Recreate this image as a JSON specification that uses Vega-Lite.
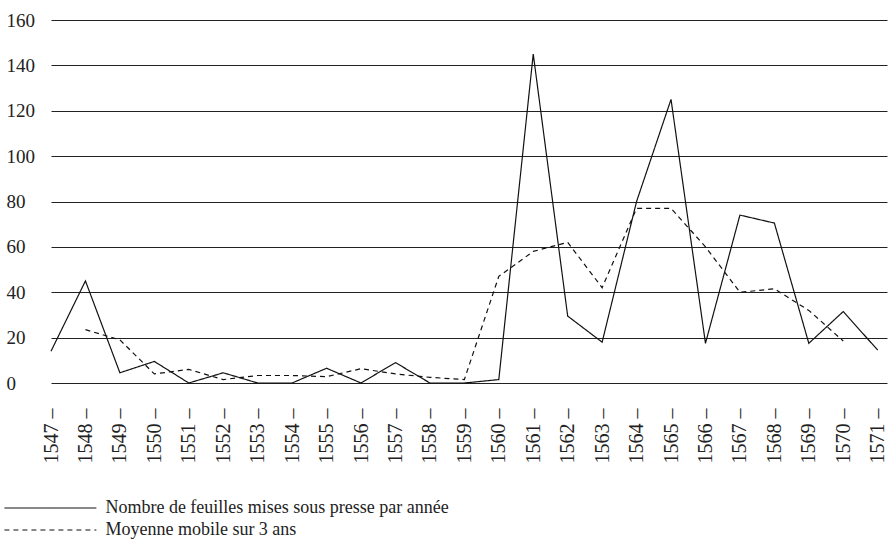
{
  "$schema": "https://vega.github.io/schema/vega-lite/v6.json",
  "width": 836,
  "height": 363,
  "autosize": {"type": "none"},
  "padding": {"left": 51, "top": 20, "right": 7, "bottom": 163},
  "background": "white",
  "config": {
    "view": {"stroke": null},
    "font": "Liberation Serif",
    "axis": {"labelFont": "Liberation Serif", "labelColor": "#222"},
    "legend": {"labelFont": "Liberation Serif"}
  },
  "data": {
    "values": [
      {"year": 1547, "value": 14, "series": "Nombre de feuilles mises sous presse par année"},
      {"year": 1548, "value": 45, "series": "Nombre de feuilles mises sous presse par année"},
      {"year": 1549, "value": 4.5, "series": "Nombre de feuilles mises sous presse par année"},
      {"year": 1550, "value": 9.5, "series": "Nombre de feuilles mises sous presse par année"},
      {"year": 1551, "value": 0, "series": "Nombre de feuilles mises sous presse par année"},
      {"year": 1552, "value": 4.5, "series": "Nombre de feuilles mises sous presse par année"},
      {"year": 1553, "value": 0, "series": "Nombre de feuilles mises sous presse par année"},
      {"year": 1554, "value": 0, "series": "Nombre de feuilles mises sous presse par année"},
      {"year": 1555, "value": 6.5, "series": "Nombre de feuilles mises sous presse par année"},
      {"year": 1556, "value": 0, "series": "Nombre de feuilles mises sous presse par année"},
      {"year": 1557, "value": 9, "series": "Nombre de feuilles mises sous presse par année"},
      {"year": 1558, "value": 0, "series": "Nombre de feuilles mises sous presse par année"},
      {"year": 1559, "value": 0, "series": "Nombre de feuilles mises sous presse par année"},
      {"year": 1560, "value": 1.5, "series": "Nombre de feuilles mises sous presse par année"},
      {"year": 1561, "value": 145, "series": "Nombre de feuilles mises sous presse par année"},
      {"year": 1562, "value": 29.5, "series": "Nombre de feuilles mises sous presse par année"},
      {"year": 1563, "value": 18, "series": "Nombre de feuilles mises sous presse par année"},
      {"year": 1564, "value": 80, "series": "Nombre de feuilles mises sous presse par année"},
      {"year": 1565, "value": 125, "series": "Nombre de feuilles mises sous presse par année"},
      {"year": 1566, "value": 17.5, "series": "Nombre de feuilles mises sous presse par année"},
      {"year": 1567, "value": 74, "series": "Nombre de feuilles mises sous presse par année"},
      {"year": 1568, "value": 70.5, "series": "Nombre de feuilles mises sous presse par année"},
      {"year": 1569, "value": 17.5, "series": "Nombre de feuilles mises sous presse par année"},
      {"year": 1570, "value": 31.5, "series": "Nombre de feuilles mises sous presse par année"},
      {"year": 1571, "value": 14.5, "series": "Nombre de feuilles mises sous presse par année"},
      {"year": 1548, "value": 23.5, "series": "Moyenne mobile sur 3 ans"},
      {"year": 1549, "value": 19, "series": "Moyenne mobile sur 3 ans"},
      {"year": 1550, "value": 4, "series": "Moyenne mobile sur 3 ans"},
      {"year": 1551, "value": 6, "series": "Moyenne mobile sur 3 ans"},
      {"year": 1552, "value": 1.5, "series": "Moyenne mobile sur 3 ans"},
      {"year": 1553, "value": 3.3, "series": "Moyenne mobile sur 3 ans"},
      {"year": 1554, "value": 3.3, "series": "Moyenne mobile sur 3 ans"},
      {"year": 1555, "value": 2.8, "series": "Moyenne mobile sur 3 ans"},
      {"year": 1556, "value": 6.3, "series": "Moyenne mobile sur 3 ans"},
      {"year": 1557, "value": 4, "series": "Moyenne mobile sur 3 ans"},
      {"year": 1558, "value": 2.5, "series": "Moyenne mobile sur 3 ans"},
      {"year": 1559, "value": 1.5, "series": "Moyenne mobile sur 3 ans"},
      {"year": 1560, "value": 47, "series": "Moyenne mobile sur 3 ans"},
      {"year": 1561, "value": 58, "series": "Moyenne mobile sur 3 ans"},
      {"year": 1562, "value": 62, "series": "Moyenne mobile sur 3 ans"},
      {"year": 1563, "value": 42, "series": "Moyenne mobile sur 3 ans"},
      {"year": 1564, "value": 77, "series": "Moyenne mobile sur 3 ans"},
      {"year": 1565, "value": 77, "series": "Moyenne mobile sur 3 ans"},
      {"year": 1566, "value": 60, "series": "Moyenne mobile sur 3 ans"},
      {"year": 1567, "value": 40, "series": "Moyenne mobile sur 3 ans"},
      {"year": 1568, "value": 41.5, "series": "Moyenne mobile sur 3 ans"},
      {"year": 1569, "value": 32, "series": "Moyenne mobile sur 3 ans"},
      {"year": 1570, "value": 18.5, "series": "Moyenne mobile sur 3 ans"}
    ]
  },
  "mark": {"type": "line", "color": "#111", "strokeWidth": 1.2},
  "encoding": {
    "x": {
      "field": "year",
      "type": "quantitative",
      "scale": {"domain": [1547, 1571.27], "nice": false, "zero": false},
      "axis": {
        "title": null,
        "values": [1547,1548,1549,1550,1551,1552,1553,1554,1555,1556,1557,1558,1559,1560,1561,1562,1563,1564,1565,1566,1567,1568,1569,1570,1571],
        "labelExpr": "datum.value + ' –'",
        "labelAngle": 270,
        "labelAlign": "right",
        "labelBaseline": "middle",
        "labelPadding": 25,
        "ticks": false,
        "domain": false,
        "grid": false,
        "labelFontSize": 20,
        "labelOverlap": false
      }
    },
    "y": {
      "field": "value",
      "type": "quantitative",
      "scale": {"domain": [0, 160], "nice": false},
      "axis": {
        "title": null,
        "values": [0, 20, 40, 60, 80, 100, 120, 140, 160],
        "ticks": false,
        "domain": false,
        "grid": true,
        "gridColor": "#222",
        "gridWidth": 1,
        "gridOpacity": 1,
        "labelAlign": "left",
        "labelPadding": 45,
        "labelFontSize": 19
      }
    },
    "strokeDash": {
      "field": "series",
      "type": "nominal",
      "scale": {
        "domain": ["Nombre de feuilles mises sous presse par année", "Moyenne mobile sur 3 ans"],
        "range": [[1, 0], [5, 4]]
      },
      "legend": {
        "title": null,
        "orient": "none",
        "legendX": -9.6,
        "legendY": 479,
        "symbolType": "M-10,0H10",
        "symbolSize": 84.6,
        "symbolStrokeColor": "#111",
        "symbolStrokeWidth": 1.2,
        "labelFont": "Liberation Serif",
        "labelFontSize": 18,
        "labelColor": "#222",
        "labelOffset": 46,
        "labelLimit": 600,
        "rowPadding": 4
      }
    }
  }
}
